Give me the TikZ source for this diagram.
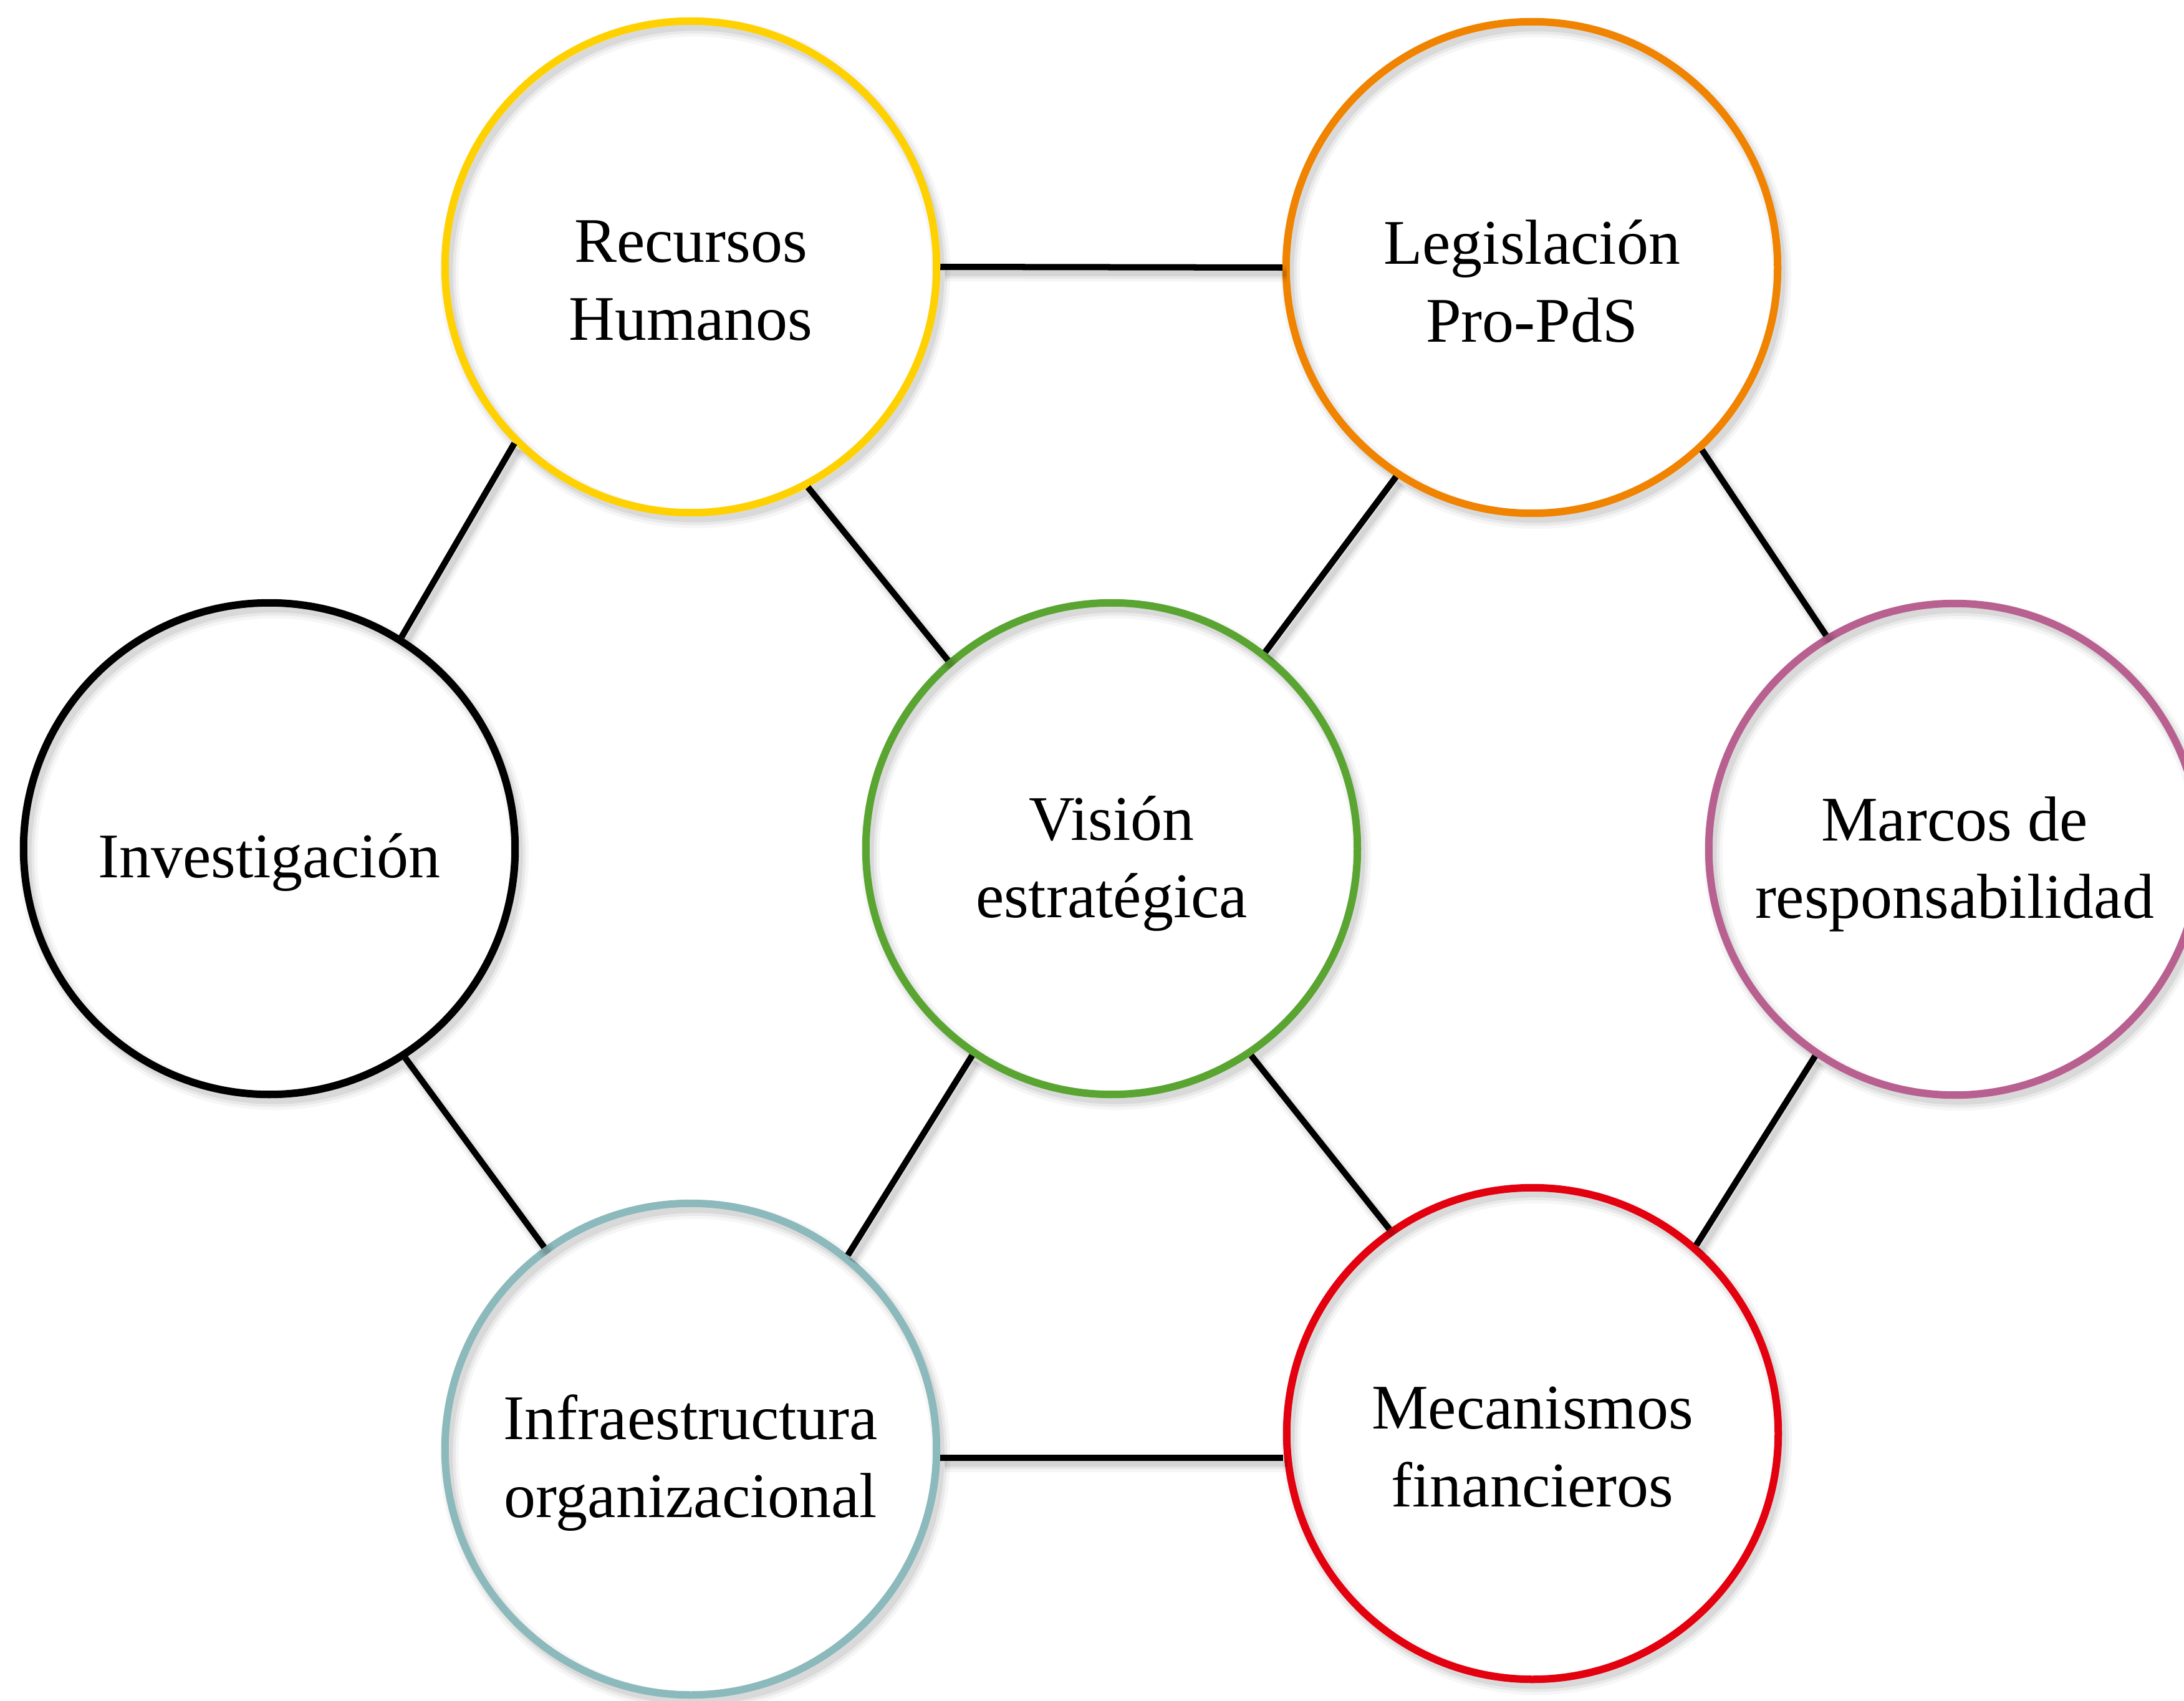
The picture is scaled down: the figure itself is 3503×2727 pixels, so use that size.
\documentclass[tikz,border=0pt]{standalone}
\usepackage{fontspec}
\setmainfont{Liberation Serif}
\definecolor{cyellow}{HTML}{FFD100}
\definecolor{corange}{HTML}{F08300}
\definecolor{cgreen}{HTML}{5AA532}
\definecolor{cpink}{HTML}{B8608F}
\definecolor{cteal}{HTML}{8CB9BB}
\definecolor{cred}{HTML}{E3000F}
\tikzset{
  ring/.style={circle, draw, line width=0.12cm, minimum size=7.88cm, inner sep=0pt},
  conn/.style={draw=black, line width=0.10cm},
  lbl/.style={align=center, font=\fontsize{29}{35.5}\selectfont, inner sep=0pt},
  rshadowA/.style={draw=black, line width=0.30cm, opacity=0.035},
  rshadowB/.style={draw=black, line width=0.20cm, opacity=0.05},
  rshadowC/.style={draw=black, line width=0.11cm, opacity=0.07},
}
\begin{document}
\begin{tikzpicture}[x=0.01cm, y=-0.01cm]
\useasboundingbox (0,0) rectangle (3503,2727);
\clip (0,0) rectangle (3503,2727);
% circle positions
\coordinate (prh) at (1108,428);
\coordinate (pleg) at (2457,429);
\coordinate (pinv) at (432,1361);
\coordinate (pvis) at (1783,1361);
\coordinate (pmar) at (3135,1362);
\coordinate (pinf) at (1108,2324);
\coordinate (pmec) at (2458,2299);
% ring shadows
\foreach \p in {prh,pleg,pinv,pvis,pmar,pinf,pmec}{
  \draw[rshadowA] ([shift={(0.07cm,-0.10cm)}]\p) circle[radius=3.94cm];
  \draw[rshadowB] ([shift={(0.07cm,-0.10cm)}]\p) circle[radius=3.94cm];
  \draw[rshadowC] ([shift={(0.07cm,-0.10cm)}]\p) circle[radius=3.94cm];
}
% rings
\node[ring, draw=cyellow] (rh) at (prh) {};
\node[ring, draw=corange] (leg) at (pleg) {};
\node[ring, draw=black] (inv) at (pinv) {};
\node[ring, draw=cgreen] (vis) at (pvis) {};
\node[ring, draw=cpink] (mar) at (pmar) {};
\node[ring, draw=cteal] (inf) at (pinf) {};
\node[ring, draw=cred] (mec) at (pmec) {};
% connector shadows
\begin{scope}[transform canvas={xshift=0.07cm, yshift=-0.10cm}]
\foreach \w/\o in {0.26cm/0.04, 0.17cm/0.06, 0.09cm/0.08}{
  \draw[line width=\w, draw=black, opacity=\o] (rh.0) -- (leg.180);
  \draw[line width=\w, draw=black, opacity=\o] (rh.225) -- (inv.58);
  \draw[line width=\w, draw=black, opacity=\o] (rh.298) -- (vis.131);
  \draw[line width=\w, draw=black, opacity=\o] (leg.237) -- (vis.52);
  \draw[line width=\w, draw=black, opacity=\o] (leg.313) -- (mar.121);
  \draw[line width=\w, draw=black, opacity=\o] (inv.303) -- (inf.126);
  \draw[line width=\w, draw=black, opacity=\o] (vis.236) -- (inf.51);
  \draw[line width=\w, draw=black, opacity=\o] (vis.304) -- (mec.125);
  \draw[line width=\w, draw=black, opacity=\o] (mar.236) -- (mec.49);
  \draw[line width=\w, draw=black, opacity=\o] (inf.358) -- (inf.358 -| mec.west);
}
\end{scope}
% connectors
\draw[conn] (rh.0) -- (leg.180);
\draw[conn] (rh.225) -- (inv.58);
\draw[conn] (rh.298) -- (vis.131);
\draw[conn] (leg.237) -- (vis.52);
\draw[conn] (leg.313) -- (mar.121);
\draw[conn] (inv.303) -- (inf.126);
\draw[conn] (vis.236) -- (inf.51);
\draw[conn] (vis.304) -- (mec.125);
\draw[conn] (mar.236) -- (mec.49);
\draw[conn] (inf.358) -- (inf.358 -| mec.west);
% labels
\node[lbl] (rht) at ([yshift=-0.22cm]rh.center) {Recursos\\Humanos};
\node[lbl] (legt) at ([yshift=-0.22cm]leg.center) {Legislación\\Pro-PdS};
\node[lbl] (invt) at ([yshift=-0.22cm]inv.center) {Investigación};
\node[lbl] (vist) at ([yshift=-0.24cm]vis.center) {Visión\\estratégica};
\node[lbl] (mart) at ([yshift=-0.24cm]mar.center) {Marcos de\\responsabilidad};
\node[lbl] (inft) at ([yshift=-0.22cm]inf.center) {Infraestructura\\organizacional};
\node[lbl] (mect) at ([yshift=-0.22cm]mec.center) {Mecanismos\\financieros};
\end{tikzpicture}
\end{document}
